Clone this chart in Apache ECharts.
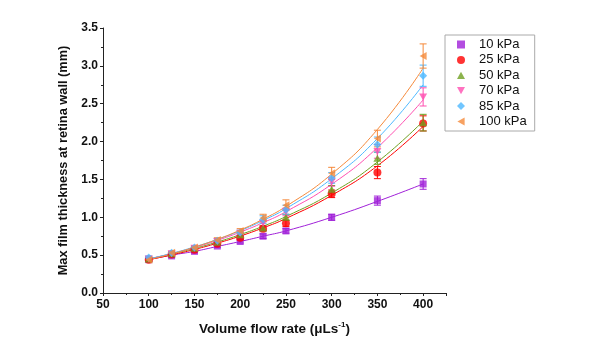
<!DOCTYPE html>
<html><head><meta charset="utf-8">
<script src="https://cdn.jsdelivr.net/npm/echarts@6/dist/echarts.min.js"></script>
<style>html,body{margin:0;padding:0;background:#fff}#c{width:600px;height:341px}</style>
</head><body><div id="c"></div>
<script>
var flow = [100,125,150,175,200,225,250,300,350,400];
var names = ['10 kPa','25 kPa','50 kPa','70 kPa','85 kPa','100 kPa'];
var v10  = [0.44,0.49,0.55,0.62,0.68,0.75,0.82,1.00,1.22,1.44];
var v25  = [0.44,0.51,0.57,0.65,0.73,0.85,0.92,1.31,1.59,2.24];
var v50  = [0.45,0.52,0.59,0.67,0.77,0.86,1.00,1.37,1.78,2.25];
var v70  = [0.45,0.52,0.59,0.68,0.79,0.92,1.07,1.47,1.87,2.59];
var v85  = [0.47,0.53,0.60,0.69,0.80,0.97,1.10,1.52,1.96,2.87];
var v100 = [0.44,0.53,0.60,0.70,0.82,0.99,1.16,1.58,2.04,3.13];
var e10  = [0.02,0.02,0.02,0.02,0.02,0.03,0.03,0.04,0.06,0.07];
var e25  = [0.02,0.02,0.02,0.02,0.03,0.03,0.04,0.05,0.08,0.10];
var e50  = [0.02,0.02,0.02,0.02,0.03,0.03,0.04,0.05,0.08,0.11];
var e70  = [0.02,0.02,0.02,0.02,0.03,0.04,0.05,0.06,0.09,0.12];
var e85  = [0.02,0.02,0.02,0.03,0.03,0.05,0.06,0.07,0.10,0.14];
var e100 = [0.02,0.02,0.02,0.03,0.03,0.05,0.07,0.08,0.11,0.16];
var f10  = [0.44,0.50,0.55,0.615,0.68,0.75,0.82,1.00,1.21,1.44];
var f25  = [0.44,0.503,0.575,0.658,0.752,0.860,0.984,1.29,1.68,2.20];
var f50  = [0.45,0.515,0.589,0.674,0.771,0.882,1.010,1.32,1.73,2.27];
var f70  = [0.45,0.520,0.601,0.695,0.804,0.929,1.074,1.436,1.92,2.55];
var f85  = [0.45,0.523,0.609,0.708,0.823,0.958,1.114,1.51,2.04,2.75];
var f100 = [0.44,0.516,0.605,0.709,0.831,0.975,1.143,1.571,2.16,2.97];
var yTicks = ['0.0','0.5','1.0','1.5','2.0','2.5','3.0','3.5'];

var vals = [v10,v25,v50,v70,v85,v100];
var errs = [e10,e25,e50,e70,e85,e100];
var fits = [f10,f25,f50,f70,f85,f100];
var colors = ['#A020D8','#FF0000','#6FA020','#FF4FB0','#4DB8FF','#F5893A'];
var symbols = ['rect','circle','path://M5,0 L10,9 L0,9 Z','path://M0,0 L10,0 L5,9 Z','diamond','path://M9,0 L9,10 L0,5 Z'];
var sizes = [7,8,[8,7],[8,7],8,[7,8]];

var series = [];
fits.forEach(function(f,i){
  series.push({type:'line', data:flow.map(function(x,j){return [x,f[j]];}), smooth:true, showSymbol:false, symbol:'none',
    lineStyle:{color:colors[i], width:1}, z:2, silent:true, legendHoverLink:false});
});
errs.forEach(function(e,i){
  series.push({type:'custom', z:3, silent:true,
    data: flow.map(function(x,j){return [x, vals[i][j]-e[j], vals[i][j]+e[j]];}),
    renderItem:function(params, api){
      var lo = api.coord([api.value(0), api.value(1)]);
      var hi = api.coord([api.value(0), api.value(2)]);
      var w = 3.5;
      var st = {stroke:colors[i], lineWidth:1};
      return {type:'group', children:[
        {type:'line', shape:{x1:lo[0],y1:lo[1],x2:hi[0],y2:hi[1]}, style:st},
        {type:'line', shape:{x1:lo[0]-w,y1:lo[1],x2:lo[0]+w,y2:lo[1]}, style:st},
        {type:'line', shape:{x1:hi[0]-w,y1:hi[1],x2:hi[0]+w,y2:hi[1]}, style:st}
      ]};
    }});
});
vals.forEach(function(v,i){
  series.push({type:'scatter', name:names[i], data:flow.map(function(x,j){return [x,v[j]];}),
    symbol:symbols[i], symbolSize:sizes[i], itemStyle:{color:colors[i]}, z:4});
});

var chart = echarts.init(document.getElementById('c'));
chart.setOption({
  animation:false,
  textStyle:{fontFamily:'Liberation Sans, Arial, sans-serif'},
  grid:{left:103, right:154, top:28, bottom:46},
  legend:{
    data:names.map(function(n,i){return {name:n, icon:symbols[i]};}),
    orient:'vertical', left:445, top:35, padding:[3,8,3,12], itemGap:2.4,
    itemWidth:8, itemHeight:8, borderColor:'#aaa', borderWidth:1,
    textStyle:{fontSize:13, color:'#111', fontFamily:'Liberation Sans, Arial, sans-serif', padding:[0,0,0,9]}
  },
  xAxis:{
    type:'value', min:50, max:425, interval:50,
    name:'{a|Volume flow rate (μLs}{s|-1}{a|)}', nameLocation:'middle', nameGap:28,
    nameTextStyle:{rich:{a:{fontSize:13.5, fontWeight:'bold', color:'#111'}, s:{fontSize:8, fontWeight:'bold', color:'#111', verticalAlign:'top', padding:[0,0,8,0]}}},
    axisLine:{onZero:false, lineStyle:{color:'#222', width:1}},
    axisTick:{show:true, inside:false, length:3, lineStyle:{color:'#222'}},
    minorTick:{show:true, splitNumber:2, length:2, lineStyle:{color:'#222'}},
    axisLabel:{fontSize:12, fontWeight:'bold', color:'#111', margin:6, showMaxLabel:false},
    splitLine:{show:false}
  },
  yAxis:{
    type:'value', min:0, max:3.5, interval:0.5,
    name:'Max film thickness at retina wall (mm)', nameLocation:'middle', nameGap:32,
    nameTextStyle:{fontSize:12.8, fontWeight:'bold', color:'#111'},
    axisLine:{show:true, lineStyle:{color:'#222', width:1}},
    axisTick:{show:true, inside:false, length:3, lineStyle:{color:'#222'}},
    minorTick:{show:true, splitNumber:2, length:2, lineStyle:{color:'#222'}},
    axisLabel:{fontSize:12, fontWeight:'bold', color:'#111', margin:5,
      formatter:function(v){return yTicks[Math.round(v/0.5)];}},
    splitLine:{show:false}
  },
  series:series
});
</script></body></html>
